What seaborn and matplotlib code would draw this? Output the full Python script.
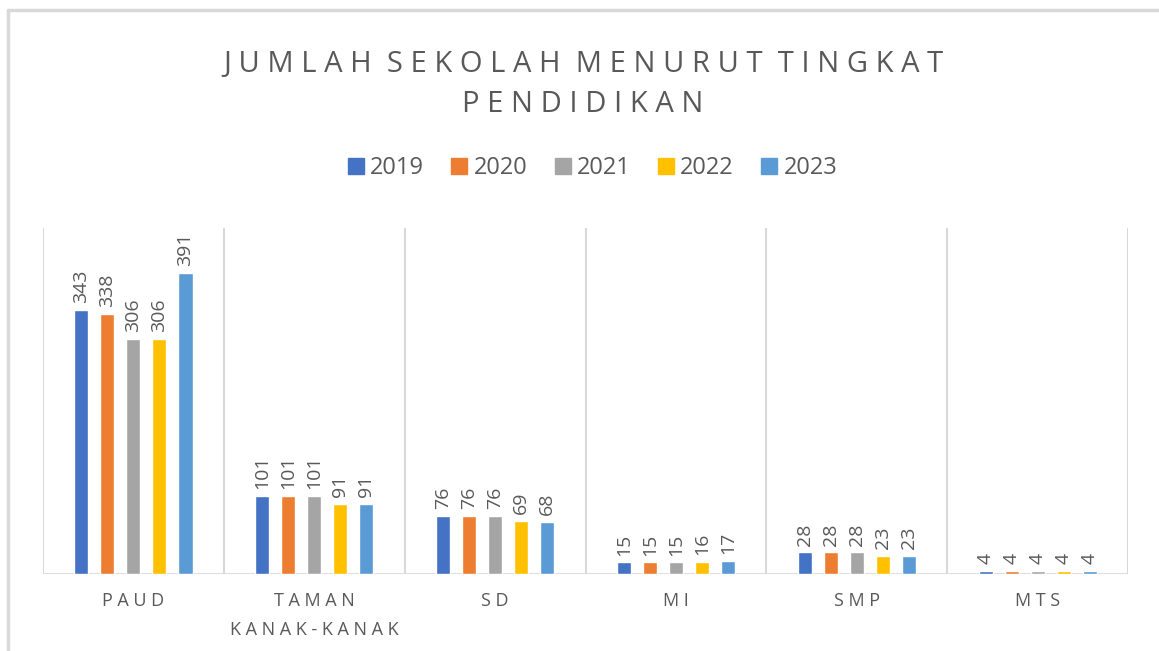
import numpy as np
import pandas as pd
import matplotlib
matplotlib.use("Agg")
import matplotlib.pyplot as plt
import seaborn as sns
from matplotlib.lines import Line2D

categories = ["PAUD", "TAMAN\nKANAK-KANAK", "SD", "MI", "SMP", "MTS"]
years = ["2019", "2020", "2021", "2022", "2023"]
v2019 = [343, 101, 76, 15, 28, 4]
v2020 = [338, 101, 76, 15, 28, 4]
v2021 = [306, 101, 76, 15, 28, 4]
v2022 = [306, 91, 69, 16, 23, 4]
v2023 = [391, 91, 68, 17, 23, 4]
colors = ["#4472C4", "#ED7D31", "#A5A5A5", "#FFC000", "#5B9BD5"]
title = "JUMLAH SEKOLAH MENURUT TINGKAT\nPENDIDIKAN"

df = pd.DataFrame({"kategori": categories * 5,
                   "tahun": np.repeat(years, len(categories)),
                   "jumlah": v2019 + v2020 + v2021 + v2022 + v2023})

sns.set_style("white")
plt.rcParams["font.family"] = ["Open Sans", "DejaVu Sans"]
grey = "#595959"


def spaced(s, gap=" "):
    # fake Excel letter spacing
    return "\n".join("  ".join(gap.join(w) for w in line.split(" ")) for line in s.split("\n"))


fig = plt.figure(figsize=(11.59, 6.51), dpi=100)
ax = fig.add_axes([0.0371, 0.1183, 0.9362, 0.5315])

sns.barplot(data=df, x="kategori", y="jumlah", hue="tahun", palette=colors,
            width=0.72, gap=0.46, ax=ax, legend=False, saturation=1)

for cont in ax.containers:
    ax.bar_label(cont, rotation=90, padding=5, color=grey, fontsize=14)

ax.set_ylim(0, 450)
ax.set_xlim(-0.5, len(categories) - 0.5)
for x in np.arange(len(categories) + 1) - 0.5:
    ax.axvline(x, color="#D9D9D9", lw=1.5, zorder=0)
ax.axhline(0, color="#D9D9D9", lw=2, zorder=0)
sns.despine(ax=ax, left=True, bottom=True, top=True, right=True)
ax.set_yticks([])
ax.set_xlabel("")
ax.set_ylabel("")
ax.set_xticks(range(len(categories)))
ax.set_xticklabels([spaced(c) for c in categories], color=grey, fontsize=13,
                   linespacing=1.75)
ax.tick_params(axis="x", length=0, pad=13)

fig.text(0.503, 0.87, spaced(title), ha="center", va="center", fontsize=21,
         color=grey, linespacing=1.5)

handles = [Line2D([], [], marker="s", ls="", color=c, markersize=11) for c in colors]
fig.legend(handles, years, loc="center", bbox_to_anchor=(0.51, 0.742), ncol=5,
           frameon=False, fontsize=17, labelcolor=grey, handletextpad=0.15,
           columnspacing=1.05, handlelength=0.9)

fig.add_artist(Line2D([8 / 1159, 1], [1 - 10 / 651] * 2, color="#D9D9D9", lw=2.5,
                      transform=fig.transFigure))
fig.add_artist(Line2D([8 / 1159] * 2, [0, 1 - 10 / 651], color="#D9D9D9", lw=2.5,
                      transform=fig.transFigure))

fig.savefig("out.png", dpi=100)
